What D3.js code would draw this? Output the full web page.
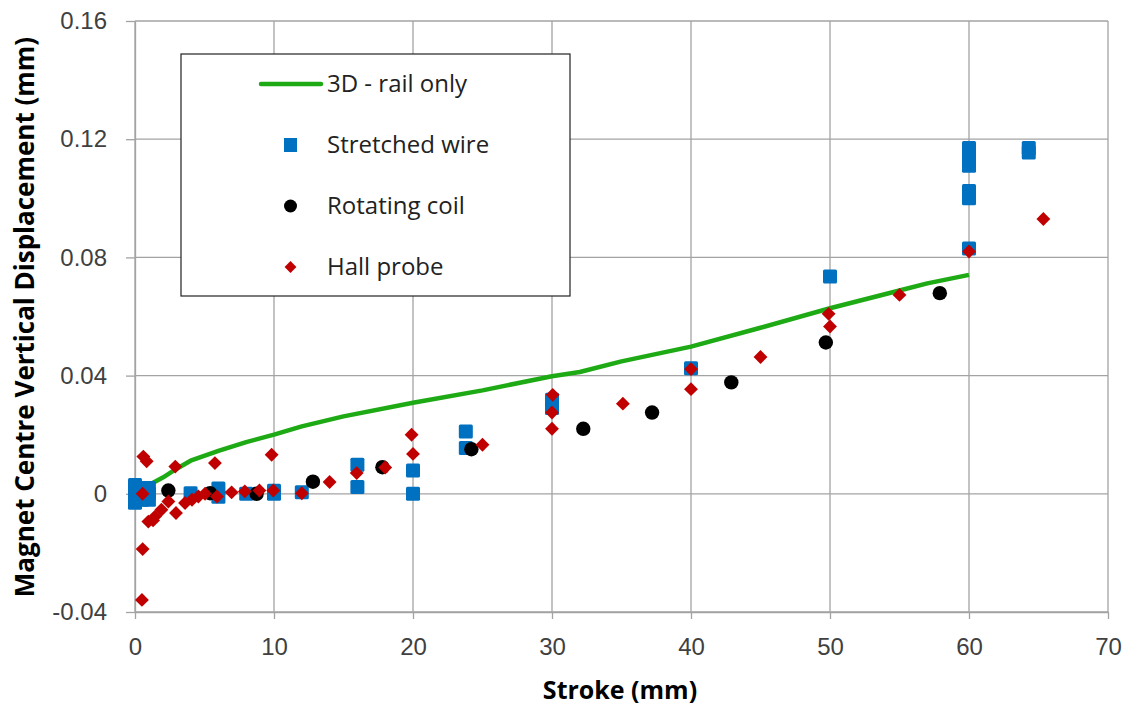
<!DOCTYPE html>
<html>
<head>
<meta charset="utf-8">
<script src="https://cdn.jsdelivr.net/npm/d3@7"></script>
<style>
body { margin: 0; padding: 0; background: #fff; }
svg { display: block; font-family: "Open Sans", "Noto Sans", sans-serif; }
.grid line { stroke: #a3a3a3; stroke-width: 1.3px; }
.axis path, .axis line { stroke: #a3a3a3; stroke-width: 1.3px; }
.axis text { font-size: 24px; fill: #404040; }
</style>
</head>
<body>
<svg></svg>
<script>
// 3D model curve (rail only)
var railStroke = [1.2, 2, 3, 4, 6, 8, 10, 12, 15, 20, 25, 30, 32, 35, 40, 45, 50, 55, 57, 60];
var railDisp = [0.0035, 0.0055, 0.0085, 0.0112, 0.0145, 0.0175, 0.0200, 0.0228, 0.0262, 0.0308, 0.0350, 0.0398, 0.0412, 0.0448, 0.0498, 0.0562, 0.0628, 0.0688, 0.0712, 0.0741];

// stretched wire
var wireStroke = [0, 0, 0, 0.5, 0.5, 1, 1, 1, 4, 6, 6, 8, 10, 10, 12, 16, 16, 20, 20, 23.8, 23.8, 30, 30, 40, 50, 60, 60, 60, 60, 60, 60, 64.3, 64.3];
var wireDisp = [0.003, 0, -0.003, 0.002, -0.002, 0.002, -0.002, 0, 0.0002, 0.0018, -0.001, 0, 0, 0.001, 0.0005, 0.0098, 0.0023, 0.0079, 0, 0.0211, 0.0155, 0.0318, 0.029, 0.0425, 0.0735, 0.117, 0.1145, 0.111, 0.1025, 0.100, 0.083, 0.117, 0.1155];

// rotating coil
var coilStroke = [2.4, 5.4, 8.75, 12.8, 17.8, 24.2, 32.25, 37.2, 42.9, 49.7, 57.9];
var coilDisp = [0.0011, 0.0002, 0, 0.0041, 0.009, 0.0151, 0.022, 0.0275, 0.0377, 0.0512, 0.0679];

// hall probe
var hallStroke = [0.6, 0.84, 0.55, 0.55, 0.5, 0.96, 1.3, 1.44, 1.9, 2.4, 2.9, 2.95, 3.6, 4.1, 4.56, 5.04, 5.75, 5.9, 6.95, 7.9, 8.95, 9.83, 9.95, 12, 14, 15.95, 18, 19.9, 20, 25, 30.05, 30, 30, 35.1, 40, 40, 45, 49.9, 50, 55, 60, 65.35];
var hallDisp = [0.0126, 0.011, 0, -0.0187, -0.0359, -0.0094, -0.0090, -0.0077, -0.0054, -0.0026, 0.0092, -0.0065, -0.0031, -0.002, -0.0009, 0, 0.0104, -0.0009, 0.0005, 0.0008, 0.0011, 0.0132, 0.0011, 0.0002, 0.004, 0.007, 0.0089, 0.020, 0.0135, 0.0166, 0.0335, 0.0275, 0.022, 0.0305, 0.0422, 0.0354, 0.0463, 0.0609, 0.0566, 0.0673, 0.082, 0.093];

var xTicks = [0, 10, 20, 30, 40, 50, 60, 70];
var yTicks = [-0.04, 0, 0.04, 0.08, 0.12, 0.16];

var width = 1126, height = 708;
var svg = d3.select('svg').attr('width', width).attr('height', height);

var x = d3.scaleLinear().domain([0, 70]).range([135, 1108]);
var y = d3.scaleLinear().domain([-0.04, 0.16]).range([612, 21]);

function zip(a, b) {
  return a.map(function(v, i) { return [v, b[i]]; });
}

// gridlines
var grid = svg.append('g').attr('class', 'grid');
grid.selectAll('.gx').data(xTicks).enter().append('line')
  .attr('x1', function(d) { return x(d); })
  .attr('x2', function(d) { return x(d); })
  .attr('y1', y(-0.04)).attr('y2', y(0.16));
grid.selectAll('.gy').data(yTicks).enter().append('line')
  .attr('y1', function(d) { return y(d); })
  .attr('y2', function(d) { return y(d); })
  .attr('x1', x(0)).attr('x2', x(70));

// axes
var yFmt = function(d) { return d === 0 ? '0' : d3.format('.2f')(d).replace('\u2212', '-'); };
svg.append('g').attr('class', 'axis')
  .attr('transform', 'translate(0,' + y(-0.04) + ')')
  .call(d3.axisBottom(x).tickValues(xTicks).tickSize(7).tickPadding(19).tickSizeOuter(0));
svg.append('g').attr('class', 'axis')
  .attr('transform', 'translate(' + x(0) + ',0)')
  .call(d3.axisLeft(y).tickValues(yTicks).tickFormat(yFmt).tickSize(9).tickPadding(19).tickSizeOuter(0));

// axis titles
svg.append('text')
  .attr('x', 620).attr('y', 699)
  .attr('text-anchor', 'middle')
  .style('font-size', '25px').style('font-weight', 'bold').style('fill', '#000')
  .text('Stroke (mm)');
svg.append('text')
  .attr('transform', 'translate(34,' + 317 + ') rotate(-90)')
  .attr('text-anchor', 'middle')
  .style('font-size', '26px').style('font-weight', 'bold').style('fill', '#000')
  .text('Magnet Centre Vertical Displacement (mm)');

// series
var line = d3.line()
  .x(function(d) { return x(d[0]); })
  .y(function(d) { return y(d[1]); });

svg.append('path')
  .datum(zip(railStroke, railDisp))
  .attr('d', line)
  .attr('fill', 'none')
  .attr('stroke', '#1eaa14')
  .attr('stroke-width', 4.5)
  .attr('stroke-linejoin', 'round');

svg.append('g').selectAll('rect')
  .data(zip(wireStroke, wireDisp)).enter().append('rect')
  .attr('x', function(d) { return x(d[0]) - 7; })
  .attr('y', function(d) { return y(d[1]) - 7; })
  .attr('width', 14).attr('height', 14)
  .attr('rx', 1.5)
  .attr('fill', '#0070c0');

svg.append('g').selectAll('circle')
  .data(zip(coilStroke, coilDisp)).enter().append('circle')
  .attr('cx', function(d) { return x(d[0]); })
  .attr('cy', function(d) { return y(d[1]); })
  .attr('r', 7.2)
  .attr('fill', '#000');

var diamond = d3.symbol().type(d3.symbolSquare).size(96);
svg.append('g').selectAll('path')
  .data(zip(hallStroke, hallDisp)).enter().append('path')
  .attr('d', diamond)
  .attr('transform', function(d) { return 'translate(' + x(d[0]) + ',' + y(d[1]) + ') rotate(45)'; })
  .attr('fill', '#c00000');

// legend
var lg = svg.append('g');
lg.append('rect')
  .attr('x', 181).attr('y', 54).attr('width', 389).attr('height', 242)
  .attr('fill', '#fff').attr('stroke', '#222').attr('stroke-width', 1.2);
var lgText = ['3D - rail only', 'Stretched wire', 'Rotating coil', 'Hall probe'];
var lgY = [84, 145, 206, 267];
lg.append('line')
  .attr('x1', 261).attr('x2', 321).attr('y1', lgY[0]).attr('y2', lgY[0])
  .attr('stroke', '#1eaa14').attr('stroke-width', 4.5).attr('stroke-linecap', 'round');
lg.append('rect')
  .attr('x', 284).attr('y', lgY[1] - 7).attr('width', 13).attr('height', 14)
  .attr('fill', '#0070c0');
lg.append('circle')
  .attr('cx', 290.5).attr('cy', lgY[2]).attr('r', 6.5).attr('fill', '#000');
lg.append('path')
  .attr('d', d3.symbol().type(d3.symbolSquare).size(70))
  .attr('transform', 'translate(290.5,' + lgY[3] + ') rotate(45)')
  .attr('fill', '#c00000');
lg.selectAll('text.lg').data(lgText).enter().append('text')
  .attr('x', 327)
  .attr('y', function(d, i) { return lgY[i]; })
  .attr('dy', '0.35em')
  .style('font-size', '24px').style('fill', '#222')
  .text(function(d) { return d; });
</script>
</body>
</html>
